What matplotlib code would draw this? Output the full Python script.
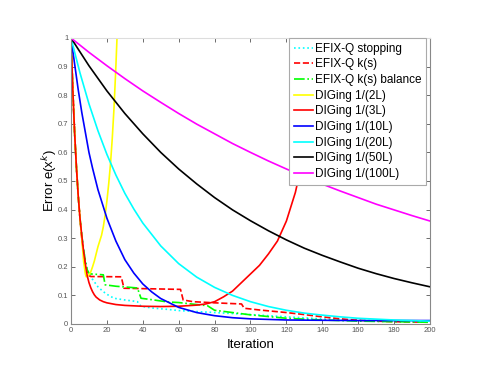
import matplotlib
matplotlib.use('Agg')
import matplotlib.pyplot as plt
from matplotlib.ticker import FuncFormatter

plt.rcParams['font.family'] = ['Liberation Sans', 'DejaVu Sans']

# EFIX-Q stopping (cyan dotted)
stop_it = [0, 1, 2, 3, 4, 5, 6, 7, 8, 9, 10, 12, 15, 18, 21, 24, 30, 35, 37, 39, 45, 54,
           60, 80, 100, 120, 140, 160, 180, 200]
stop_err = [1, 0.82, 0.67, 0.55, 0.45, 0.37, 0.31, 0.26, 0.22, 0.19, 0.172, 0.156, 0.13, 0.113,
            0.1, 0.09, 0.084, 0.08, 0.078, 0.062, 0.056, 0.051, 0.047, 0.04, 0.033, 0.025,
            0.018, 0.013, 0.01, 0.008]

# EFIX-Q k(s) (red dashed)
ks_it = [0, 1, 2, 3, 4, 5, 6, 7, 8, 9, 10, 11, 28, 29.5, 61, 62.5, 68, 80, 95, 96.5, 105,
         110, 120, 130, 140, 150, 160, 170, 180, 190, 200]
ks_err = [1, 0.82, 0.67, 0.55, 0.45, 0.37, 0.3, 0.25, 0.21, 0.185, 0.17, 0.166, 0.165, 0.125,
          0.121, 0.084, 0.078, 0.074, 0.07, 0.055, 0.049, 0.046, 0.04, 0.033, 0.025, 0.018,
          0.013, 0.01, 0.008, 0.007, 0.006]

# EFIX-Q k(s) balance (green dash-dot)
bal_it = [0, 1, 2, 3, 4, 5, 6, 7, 8, 9, 10, 11, 18, 19, 25, 37, 39, 45, 54, 60, 70, 76, 80,
          90, 100, 110, 120, 140, 160, 180, 200]
bal_err = [1, 0.82, 0.67, 0.55, 0.45, 0.37, 0.31, 0.26, 0.22, 0.19, 0.178, 0.175, 0.172,
           0.137, 0.132, 0.126, 0.09, 0.085, 0.077, 0.075, 0.068, 0.064, 0.048, 0.04, 0.032,
           0.026, 0.02, 0.014, 0.01, 0.008, 0.006]

# DIGing 1/(2L)
l2_it = [0, 1, 2, 3, 4, 5, 6, 7, 8, 8.5, 9, 10, 11, 12, 13, 14, 15, 16, 17, 18, 19, 20, 21,
         22, 23, 24, 25, 26]
l2_err = [1, 0.82, 0.67, 0.55, 0.45, 0.37, 0.3, 0.22, 0.175, 0.165, 0.166, 0.172, 0.182, 0.2,
          0.22, 0.245, 0.27, 0.29, 0.31, 0.34, 0.38, 0.43, 0.49, 0.56, 0.65, 0.76, 0.9, 1.06]

# DIGing 1/(3L)
l3_it = [0, 1, 2, 3, 4, 5, 6, 7, 8, 9, 10, 11, 12, 13, 14, 16, 18, 20, 25, 30, 40, 50, 60,
         70, 75, 80, 85, 90, 95, 100, 105, 110, 115, 120, 125, 130, 135, 140]
l3_err = [1, 0.82, 0.67, 0.55, 0.45, 0.37, 0.31, 0.255, 0.21, 0.17, 0.145, 0.127, 0.113,
          0.102, 0.094, 0.084, 0.078, 0.074, 0.068, 0.065, 0.062, 0.061, 0.062, 0.066, 0.07,
          0.078, 0.095, 0.115, 0.145, 0.175, 0.205, 0.245, 0.29, 0.36, 0.46, 0.6, 0.78, 1.02]

# DIGing 1/(10L)
l10_it = [0, 2, 4, 6, 8, 10, 12, 15, 20, 25, 30, 35, 40, 45, 50, 60, 70, 80, 90, 100, 120,
          140, 160, 200]
l10_err = [1, 0.91, 0.82, 0.74, 0.67, 0.6, 0.545, 0.47, 0.37, 0.29, 0.225, 0.178, 0.14,
           0.112, 0.089, 0.058, 0.04, 0.029, 0.022, 0.018, 0.014, 0.013, 0.012, 0.012]

# DIGing 1/(20L)
l20_it = [0, 5, 10, 15, 20, 25, 30, 35, 40, 50, 60, 70, 80, 90, 100, 110, 120, 130, 140,
          150, 160, 170, 180, 190, 200]
l20_err = [1, 0.878, 0.77, 0.676, 0.593, 0.521, 0.457, 0.402, 0.353, 0.273, 0.211, 0.164,
           0.128, 0.1, 0.078, 0.061, 0.048, 0.038, 0.031, 0.025, 0.02, 0.017, 0.014, 0.012, 0.01]

# DIGing 1/(50L) and 1/(100L)
slow_it = [0, 10, 20, 30, 40, 50, 60, 70, 80, 90, 100, 110, 120, 130, 140, 150, 160, 170,
           180, 190, 200]
l50_err = [1, 0.903, 0.815, 0.736, 0.665, 0.6, 0.542, 0.49, 0.442, 0.399, 0.361, 0.326,
           0.294, 0.265, 0.24, 0.217, 0.195, 0.176, 0.159, 0.144, 0.13]
l100_err = [1, 0.95, 0.903, 0.858, 0.815, 0.775, 0.736, 0.699, 0.665, 0.631, 0.6, 0.57,
            0.542, 0.515, 0.489, 0.465, 0.442, 0.419, 0.399, 0.379, 0.36]

fig = plt.figure(figsize=(4.84, 3.74), dpi=100)
ax = fig.add_axes([0.1467, 0.1337, 0.7417, 0.7647])

lw = 1.2
ax.plot(stop_it, stop_err, ':', color='#00ffff', lw=lw, label='EFIX-Q stopping')
ax.plot(ks_it, ks_err, '--', color='#ff0000', lw=lw, label='EFIX-Q k(s)')
ax.plot(bal_it, bal_err, '-.', color='#00ff00', lw=lw, label='EFIX-Q k(s) balance')
ax.plot(l2_it, l2_err, '-', color='#ffff00', lw=lw, label='DIGing 1/(2L)')
ax.plot(l3_it, l3_err, '-', color='#ff0000', lw=lw, label='DIGing 1/(3L)')
ax.plot(l10_it, l10_err, '-', color='#0000ff', lw=lw, label='DIGing 1/(10L)')
ax.plot(l20_it, l20_err, '-', color='#00ffff', lw=lw, label='DIGing 1/(20L)')
ax.plot(slow_it, l50_err, '-', color='#000000', lw=lw, label='DIGing 1/(50L)')
ax.plot(slow_it, l100_err, '-', color='#ff00ff', lw=lw, label='DIGing 1/(100L)')

ax.set_xlim(0, 200)
ax.set_ylim(0, 1)
ax.set_xticks(range(0, 201, 20))
ax.set_yticks([i / 10 for i in range(11)])
ax.yaxis.set_major_formatter(FuncFormatter(lambda v, p: f'{v:g}'))
ax.tick_params(direction='in', top=True, right=True, labelsize=5.5,
               colors='#555555', length=3, width=0.6, pad=2)
for s in ax.spines.values():
    s.set_color('#888888')
    s.set_linewidth(0.8)
ax.spines['top'].set_color('#dddddd')

ax.set_xlabel('Iteration', fontsize=9.5, labelpad=4)
ax.set_ylabel('Error e(x$^k$)', fontsize=9.5, labelpad=-1)

leg = ax.legend(loc='upper right', bbox_to_anchor=(0.99, 1.0), borderaxespad=0, fontsize=8.5,
                labelspacing=0.31, handlelength=1.6, handletextpad=0.2, borderpad=0.4,
                fancybox=False, framealpha=1)
leg.get_frame().set_edgecolor('#aaaaaa')
leg.get_frame().set_linewidth(0.8)

fig.savefig('out.png', dpi=100)
